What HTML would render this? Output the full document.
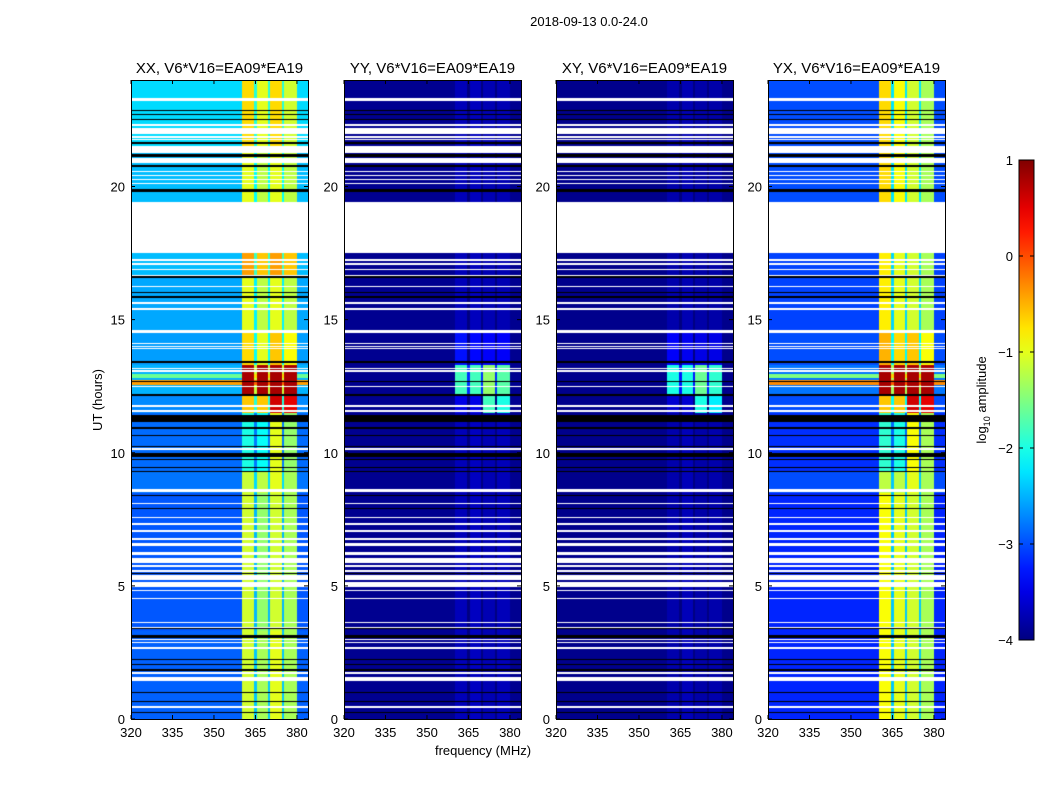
<!DOCTYPE html>
<html><head><meta charset="utf-8">
<style>
body{margin:0;background:#fff;}
#wrap{position:relative;width:1050px;height:800px;overflow:hidden;background:#fff;font-family:"Liberation Sans",sans-serif;}
canvas{position:absolute;}
svg{position:absolute;left:0;top:0;}
svg text{font-family:"Liberation Sans",sans-serif;fill:#000;}
</style></head>
<body>
<div id="wrap">
<canvas id="c0" width="177" height="639" style="left:131px;top:80px"></canvas>
<canvas id="c1" width="177" height="639" style="left:344px;top:80px"></canvas>
<canvas id="c2" width="177" height="639" style="left:556px;top:80px"></canvas>
<canvas id="c3" width="177" height="639" style="left:768px;top:80px"></canvas>
<svg id="ax" width="1050" height="800"></svg>
</div>
<script>
// ---- data ----
const panelTitles = ["XX, V6*V16=EA09*EA19","YY, V6*V16=EA09*EA19","XY, V6*V16=EA09*EA19","YX, V6*V16=EA09*EA19"];
const xTicks = [320,335,350,365,380];
const yTicks = [0,5,10,15,20];
const cbTicks = [1,0,-1,-2,-3,-4];
// frequency sub-bands [f0,f1,bandIndex]; index -1 = background, 4 = separator
const freqBands = [[320,360,-1],[360,364.6,0],[364.6,365.4,4],[365.4,369.6,1],[369.6,370.4,4],[370.4,374.6,2],[374.6,375.4,4],[375.4,380,3],[380,384,-1]];
// white (flagged) time gaps in hours
const whiteGaps = [[23.21,23.32],[22.27,22.33],[21.97,22.19],[21.82,21.88],[21.74,21.78],[21.25,21.52],[20.88,21.07],[20.55,20.6],[20.4,20.45],[20.25,20.3],[20.1,20.15],[17.5,19.41],[17.21,17.26],[17.06,17.11],[16.87,16.92],[16.56,16.67],[16.23,16.28],[15.6,15.65],[15.37,15.42],[14.5,14.61],[14.1,14.14],[13.98,14.02],[13.91,13.95],[13.16,13.2],[13.05,13.09],[12.48,12.52],[11.72,11.79],[11.53,11.6],[10.11,10.16],[8.52,8.64],[8.08,8.13],[7.55,7.59],[7.28,7.36],[7.02,7.1],[6.72,6.8],[6.5,6.61],[6.16,6.27],[5.86,6.05],[5.72,5.77],[5.53,5.58],[5.22,5.41],[4.96,5.14],[4.81,4.86],[4.51,4.56],[3.61,3.66],[3.42,3.47],[2.98,3.02],[2.87,2.91],[2.64,2.69],[1.7,1.75],[1.43,1.58],[0.43,0.47]];
// black lines in hours [h0,h1]
const blackLines = [[22.85,22.89],[22.7,22.74],[22.51,22.55],[21.58,21.68],[21.1,21.22],[20.75,20.79],[19.78,19.9],[16.58,16.62],[16.01,16.05],[15.83,15.87],[13.37,13.46],[12.64,12.68],[12.15,12.19],[11.15,11.42],[10.91,10.95],[10.64,10.68],[10.23,10.27],[9.84,10.0],[9.71,9.75],[9.44,9.48],[9.26,9.3],[8.39,8.43],[7.9,7.94],[5.46,5.5],[3.38,3.42],[3.06,3.16],[2.2,2.24],[2.01,2.05],[1.82,1.86],[0.99,1.03],[0.62,0.66],[0.21,0.25]];
// per-panel time segments: [h0,h1,bg,band1,band2,band3,band4] (log10 amplitude)
const segXX = [[0,3.3,-2.9,-1.1,-1.3,-1.0,-1.3],[3.3,8.5,-2.95,-1.1,-1.4,-1.1,-1.3],[8.5,9.3,-2.8,-1.15,-1.2,-1.0,-1.3],[9.3,11.5,-2.85,-2.0,-2.1,-1.0,-1.4],[11.5,12.2,-2.7,-0.6,-0.6,0.6,0.5],[12.2,13.3,-2.5,0.8,0.8,0.8,0.8],[13.3,14.5,-2.6,-0.7,-1.0,-0.6,-0.9],[14.5,16.6,-2.55,-1.0,-1.2,-1.0,-1.2],[16.6,17.5,-2.45,-0.4,-0.6,-0.4,-0.6],[19.4,21.5,-2.45,-1.0,-1.2,-1.0,-1.2],[21.5,24,-2.3,-0.7,-1.0,-0.7,-1.1]];
const segYY = [[0,11.5,-3.92,-3.72,-3.68,-3.75,-3.72],[11.5,12.2,-3.92,-3.5,-3.5,-1.8,-2.0],[12.2,13.3,-3.92,-1.8,-1.8,-1.4,-1.7],[13.3,14.5,-3.92,-3.3,-3.35,-3.4,-3.4],[14.5,24,-3.92,-3.72,-3.7,-3.75,-3.75]];
const segXY = [[0,11.5,-3.94,-3.78,-3.72,-3.8,-3.78],[11.5,12.2,-3.94,-3.6,-3.6,-2.0,-2.2],[12.2,13.3,-3.94,-2.0,-2.0,-1.6,-1.9],[13.3,14.5,-3.94,-3.4,-3.45,-3.5,-3.5],[14.5,24,-3.94,-3.78,-3.75,-3.8,-3.8]];
const segYX = [[0,3.3,-3.2,-0.9,-1.0,-1.1,-1.3],[3.3,8.5,-3.2,-0.9,-1.0,-1.1,-1.3],[8.5,9.3,-3.0,-1.2,-1.2,-1.0,-1.3],[9.3,11.5,-3.15,-1.9,-2.0,-0.9,-1.3],[11.5,12.2,-3.0,-0.6,-0.6,0.6,0.5],[12.2,13.3,-2.8,0.8,0.8,0.8,0.8],[13.3,14.5,-3.0,-0.5,-0.7,-0.6,-0.9],[14.5,17.5,-3.05,-0.8,-1.0,-1.1,-1.3],[19.4,24,-3.0,-0.7,-0.9,-1.1,-1.3]];
// full-width horizontal RFI stripes [h0,h1,level] per panel
const stripesXX = [[12.55,12.75,-0.4],[12.8,12.95,-1.6]];
const stripesYX = [[12.55,12.75,-0.3],[12.8,12.95,-1.5]];
const panelSegs = [segXX,segYY,segXY,segYX];
const panelStripes = [stripesXX,[],[],stripesYX];

// ---- scales ----
const PW=177, PH=639, F0=320, F1=384, H1=24;
const xs = f => (f-F0)/(F1-F0)*PW;
const ys = h => PH - h/H1*PH;
const fx = x => F0 + x/PW*(F1-F0);
const hy = y => (PH - y)/PH*H1;
function jetRGB(v){
  let t=Math.max(0,Math.min(1,(v+4)/5));
  const c=x=>Math.round(255*Math.max(0,Math.min(1,x)));
  return [c(1.5-Math.abs(4*t-3)),c(1.5-Math.abs(4*t-2)),c(1.5-Math.abs(4*t-1))];
}
function jet(v){const c=jetRGB(v);return `rgb(${c[0]},${c[1]},${c[2]})`;}
function valueAt(p,h,band){
  const seg=panelSegs[p].find(s=>h>=s[0]&&h<s[1]);
  if(!seg) return null;
  let bg=seg[2];
  for(const s of panelStripes[p]) if(h>=s[0]&&h<s[1]) bg=Math.max(bg,s[2]);
  if(band<0) return bg;
  if(band===4) return (bg+Math.min(seg[3],seg[4]))/2-0.3;
  return Math.max(seg[3+band],bg);
}
function inAny(list,h){return list.some(g=>h>=g[0]&&h<g[1]);}
for(let p=0;p<4;p++){
  const ctx=document.getElementById('c'+p).getContext('2d');
  const img=ctx.createImageData(PW,PH);
  for(let y=0;y<PH;y++){
    const h=hy(y+0.5);
    const isW=inAny(whiteGaps,h), isB=inAny(blackLines,h);
    for(let x=0;x<PW;x++){
      const i=(y*PW+x)*4;
      let col;
      if(isB) col=[0,0,0];
      else if(isW) col=[255,255,255];
      else{
        const f=fx(x+0.5);
        const b=freqBands.find(q=>f>=q[0]&&f<q[1]);
        const v=valueAt(p,h,b?b[2]:-1);
        col=v===null?[255,255,255]:jetRGB(v);
      }
      img.data[i]=col[0];img.data[i+1]=col[1];img.data[i+2]=col[2];img.data[i+3]=255;
    }
  }
  ctx.putImageData(img,0,0);
}

// ---- axes ----
const svg=document.getElementById('ax');
const NS='http://www.w3.org/2000/svg';
function mk(tag,attrs,parent){const e=document.createElementNS(NS,tag);for(const k in attrs)e.setAttribute(k,attrs[k]);(parent||svg).appendChild(e);return e;}
const lefts=[131,344,556,768];
const panelNames=['xx','yy','xy','yx'];
lefts.forEach((L,p)=>{
  const g=mk('g',{});
  
  
  const fr=mk('rect',{x:L+0.5,y:80.5,width:PW,height:PH,fill:'none',stroke:'#000','stroke-width':1},g);
  
  
  const t=mk('text',{x:L+PW/2,y:73,'text-anchor':'middle','font-size':15},g);
  t.textContent=panelTitles[p];
  
  
  xTicks.forEach(f=>{
    const x=L+xs(f);
    mk('line',{x1:x,y1:719,x2:x,y2:715,stroke:'#000'},g);
    mk('line',{x1:x,y1:80,x2:x,y2:84,stroke:'#000'},g);
    const tx=mk('text',{x:x,y:737,'text-anchor':'middle','font-size':13},g);
    tx.textContent=f;
    
    
  });
  yTicks.forEach(h=>{
    const y=80+ys(h);
    mk('line',{x1:L,y1:y,x2:L+4,y2:y,stroke:'#000'},g);
    mk('line',{x1:L+PW,y1:y,x2:L+PW-4,y2:y,stroke:'#000'},g);
    const ty=mk('text',{x:L-6,y:y+5,'text-anchor':'end','font-size':13},g);
    ty.textContent=h;
    
    
  });
});
const st=mk('text',{x:589,y:26,'text-anchor':'middle','font-size':13});
st.textContent='2018-09-13 0.0-24.0';


const xl=mk('text',{x:483,y:755,'text-anchor':'middle','font-size':13});
xl.textContent='frequency (MHz)';


const yl=mk('text',{x:0,y:0,'text-anchor':'middle','font-size':13,transform:'translate(102,400) rotate(-90)'});
yl.textContent='UT (hours)';



// colorbar
const defs=mk('defs',{});
const grad=mk('linearGradient',{id:'jetg',x1:0,y1:1,x2:0,y2:0},defs);
for(let i=0;i<=20;i++){mk('stop',{offset:i/20,'stop-color':jet(-4+5*i/20)},grad);}
const cb=mk('rect',{x:1019,y:160,width:15,height:480,fill:'url(#jetg)',stroke:'#000','stroke-width':1});


cbTicks.forEach(v=>{
  const y=160+(1-v)/5*480;
  mk('line',{x1:1019,y1:y,x2:1023,y2:y,stroke:'#000'});
  mk('line',{x1:1034,y1:y,x2:1030,y2:y,stroke:'#000'});
  const t=mk('text',{x:1013,y:y+5,'text-anchor':'end','font-size':13});
  t.textContent=v<0?'\u2212'+(-v):String(v);
  
  
});
const cl=mk('text',{x:0,y:0,'text-anchor':'middle','font-size':13,transform:'translate(986,400) rotate(-90)'});
cl.innerHTML='log<tspan font-size="9" dy="4">10</tspan><tspan dy="-4"> amplitude</tspan>';


</script>
</body></html>
